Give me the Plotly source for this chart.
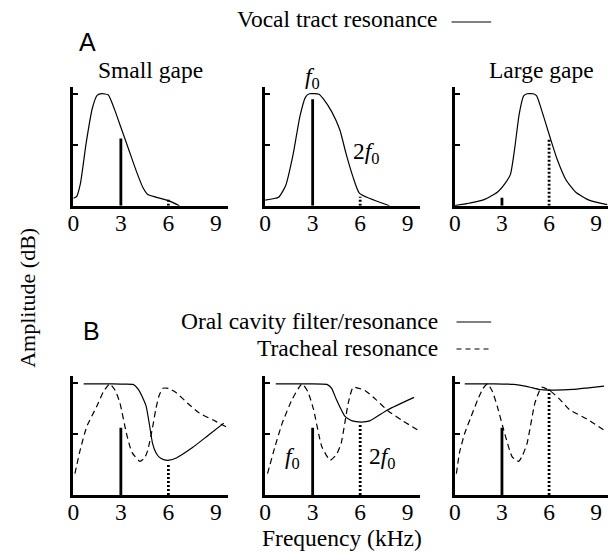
import plotly.graph_objects as go

# ---------------- data (frequency in kHz, amplitude in relative units) ----------------
# Row A: vocal tract resonance curves
vt_small_f = [0, 0.2, 0.45, 0.8, 1.2, 1.5, 1.8, 2.2, 2.6, 3.0, 3.5, 4.0, 4.4, 4.7, 5.5, 6.0, 6.7]
vt_small_a = [0.066, 0.08, 0.2, 0.55, 0.87, 0.985, 1.0, 0.99, 0.86, 0.70, 0.50, 0.30, 0.16, 0.10, 0.065, 0.045, 0.0]

vt_mid_f = [0, 0.85, 1.3, 1.77, 2.2, 2.55, 2.8, 3.4, 3.7, 4.2, 4.71, 5.1, 5.54, 5.96, 7.85]
vt_mid_a = [0.05, 0.075, 0.18, 0.46, 0.80, 0.97, 1.0, 0.995, 0.95, 0.84, 0.68, 0.47, 0.26, 0.11, 0.0]

vt_large_f = [0, 1.0, 1.9, 2.7, 3.2, 3.54, 3.8, 4.1, 4.38, 4.6, 5.0, 5.21, 5.6, 6.04, 6.5, 7.08, 7.7, 8.54, 9.7]
vt_large_a = [0.0, 0.025, 0.057, 0.12, 0.2, 0.28, 0.5, 0.82, 0.98, 1.0, 1.0, 0.98, 0.82, 0.62, 0.42, 0.23, 0.12, 0.05, 0.01]

# Row B: oral cavity filter (solid) and tracheal resonance (dashed)
oral1_f = [0.65, 2.0, 3.0, 3.77, 4.1, 4.4, 4.6, 4.8, 5.0, 5.2, 5.4, 5.7, 6.05, 6.5, 7.5, 8.5, 9.5]
oral1_a = [0.99, 0.99, 0.988, 0.985, 0.94, 0.86, 0.79, 0.63, 0.46, 0.38, 0.34, 0.315, 0.31, 0.33, 0.42, 0.53, 0.64]
trach1_f = [0.1, 0.43, 0.85, 1.48, 1.9, 2.3, 2.65, 2.94, 3.35, 3.7, 4.2, 4.5, 4.7, 5.0, 5.2, 5.4, 5.65, 6.0, 6.5, 7.2, 7.95, 8.8, 9.75]
trach1_a = [0.19, 0.40, 0.61, 0.79, 0.92, 0.99, 0.93, 0.82, 0.55, 0.38, 0.30, 0.33, 0.40, 0.60, 0.76, 0.88, 0.95, 0.95, 0.91, 0.82, 0.73, 0.67, 0.6]

oral2_f = [0.67, 2.5, 3.9, 4.2, 4.5, 5.04, 5.5, 6.08, 6.6, 7.75, 9.4]
oral2_a = [0.99, 0.99, 0.985, 0.95, 0.85, 0.70, 0.66, 0.65, 0.66, 0.76, 0.87]
trach2_f = [0.15, 0.6, 1.08, 1.7, 2.33, 2.7, 3.06, 3.58, 4.1, 4.5, 4.8, 5.25, 5.56, 6.3, 7.0, 7.75, 8.7, 9.73]
trach2_a = [0.19, 0.42, 0.64, 0.85, 0.99, 0.92, 0.76, 0.43, 0.31, 0.36, 0.46, 0.82, 0.96, 0.93, 0.85, 0.75, 0.66, 0.57]

oral3_f = [0.63, 2.5, 3.75, 4.3, 4.8, 5.4, 6.0, 7.5, 8.5, 9.5]
oral3_a = [0.99, 0.99, 0.985, 0.975, 0.96, 0.94, 0.935, 0.94, 0.955, 0.97]
trach3_f = [0.1, 0.3, 0.63, 1.04, 1.46, 1.8, 2.08, 2.4, 2.7, 3.23, 3.65, 4.06, 4.3, 4.6, 5.1, 5.52, 6.04, 6.7, 7.3, 8.5, 9.58]
trach3_a = [0.19, 0.38, 0.55, 0.70, 0.85, 0.95, 0.99, 0.92, 0.79, 0.52, 0.34, 0.30, 0.35, 0.46, 0.82, 0.96, 0.93, 0.85, 0.76, 0.67, 0.57]

# Harmonics: fundamental f0 and second harmonic 2f0
f0_khz = 3
f2_khz = 6
f0_amp_a = [0.60, 0.95, 0.07]
f2_amp_a = [0.07, 0.08, 0.60]
f0_amp_b = [0.60, 0.60, 0.60]
f2_amp_b = [0.28, 0.64, 0.94]

x_ticks = [0, 3, 6, 9]
x_tick_text = ["0", "3", "6", "9"]

# ---------------- layout helpers ----------------
W, H = 608, 552
SERIF = "Liberation Serif, Times New Roman, serif"
SANS = "Liberation Sans, Arial, sans-serif"
FS = 23.5


def px(x):
    return x / W


def py(y):
    return 1 - y / H


col_px = [(68, 224), (261.7, 417.7), (453.3, 609.3)]
row_px = [(87, 205.7), (376, 495)]

fig = go.Figure()

curve = dict(color="black", width=1.2, shape="spline", smoothing=0.5)
dashed = dict(color="black", width=1.2, shape="spline", smoothing=0.5, dash="6px,4px")
bar_solid = dict(color="black", width=2.8)
bar_dot = dict(color="black", width=2.8, dash="2px,2px")

top_curves = [(vt_small_f, vt_small_a), (vt_mid_f, vt_mid_a), (vt_large_f, vt_large_a)]
oral = [(oral1_f, oral1_a), (oral2_f, oral2_a), (oral3_f, oral3_a)]
trach = [(trach1_f, trach1_a), (trach2_f, trach2_a), (trach3_f, trach3_a)]

axis_common_x = dict(range=[0, 9.75], showline=True, linewidth=3, linecolor="black",
                     showgrid=False, zeroline=False, ticks="", tickvals=x_ticks,
                     ticktext=x_tick_text, ticklabelstandoff=-6,
                     tickfont=dict(family=SERIF, size=FS, color="black"))
axis_common_y = dict(range=[0, 1.06], showline=True, linewidth=3, linecolor="black",
                     showgrid=False, zeroline=False, ticks="inside", ticklen=5, tickwidth=2,
                     tickcolor="black", tickvals=[0.54, 1.0], showticklabels=False)

layout_axes = {}
for r in range(2):
    for c in range(3):
        i = r * 3 + c + 1
        xa = "x" if i == 1 else f"x{i}"
        ya = "y" if i == 1 else f"y{i}"
        xkey = "xaxis" if i == 1 else f"xaxis{i}"
        ykey = "yaxis" if i == 1 else f"yaxis{i}"
        x0, x1 = col_px[c]
        y0, y1 = row_px[r]
        layout_axes[xkey] = dict(axis_common_x, domain=[px(x0), min(px(x1), 1.0)], anchor=ya)
        layout_axes[ykey] = dict(axis_common_y, domain=[py(y1), py(y0)], anchor=xa)

        if r == 0:
            f, a = top_curves[c]
            fig.add_trace(go.Scatter(x=f, y=a, mode="lines", line=curve, xaxis=xa, yaxis=ya))
            h0, h2 = f0_amp_a[c], f2_amp_a[c]
        else:
            f, a = trach[c]
            fig.add_trace(go.Scatter(x=f, y=a, mode="lines", line=dashed, xaxis=xa, yaxis=ya))
            f, a = oral[c]
            fig.add_trace(go.Scatter(x=f, y=a, mode="lines", line=curve, xaxis=xa, yaxis=ya))
            h0, h2 = f0_amp_b[c], f2_amp_b[c]
        fig.add_trace(go.Scatter(x=[f0_khz, f0_khz], y=[0, h0], mode="lines",
                                 line=bar_solid, xaxis=xa, yaxis=ya))
        fig.add_trace(go.Scatter(x=[f2_khz, f2_khz], y=[0, h2], mode="lines",
                                 line=bar_dot, xaxis=xa, yaxis=ya))

ann = []


def text(x, y, s, size=FS, family=SERIF, xanchor="center", angle=0, xref="paper", yref="paper"):
    ann.append(dict(x=x, y=y, xref=xref, yref=yref, text=s, showarrow=False,
                    xanchor=xanchor, yanchor="middle", textangle=angle,
                    font=dict(family=family, size=size, color="black")))


# panel letters
text(px(82), py(42), "A", size=25, family=SANS)
text(px(86), py(331), "B", size=25, family=SANS)

# legends (text right-aligned, key line on the right)
text(px(438), py(19), "Vocal tract resonance", xanchor="right")
text(px(438), py(321), "Oral cavity filter/resonance", xanchor="right")
text(px(438), py(348), "Tracheal resonance", xanchor="right")

# titles of the gape conditions
text(px(146), py(70), "Small gape")
text(px(541), py(70), "Large gape")

# harmonic labels
text(3.0, py(78), "<i>f</i><sub>0</sub>", xref="x2", yref="paper")
text(6.4, 0.47, "2<i>f</i><sub>0</sub>", xref="x2", yref="y2")
text(1.75, 0.33, "<i>f</i><sub>0</sub>", xref="x5", yref="y5")
text(7.4, 0.33, "2<i>f</i><sub>0</sub>", xref="x5", yref="y5")

# axis titles
text(px(339), py(538), "Frequency (kHz)")
text(px(21), py(298), "Amplitude (dB)", size=22, angle=-90)

shapes = [
    dict(type="line", xref="paper", yref="paper", x0=px(450), x1=px(490), y0=py(22), y1=py(22),
         line=dict(color="black", width=1.2)),
    dict(type="line", xref="paper", yref="paper", x0=px(455), x1=px(490), y0=py(322), y1=py(322),
         line=dict(color="black", width=1.2)),
    dict(type="line", xref="paper", yref="paper", x0=px(455), x1=px(490), y0=py(349), y1=py(349),
         line=dict(color="black", width=1.2, dash="5px,4px")),
]

fig.update_layout(
    width=W, height=H, autosize=False,
    margin=dict(l=0, r=0, t=0, b=0),
    paper_bgcolor="white", plot_bgcolor="white",
    showlegend=False,
    annotations=ann, shapes=shapes,
    **layout_axes,
)

fig.write_html("out.html")
